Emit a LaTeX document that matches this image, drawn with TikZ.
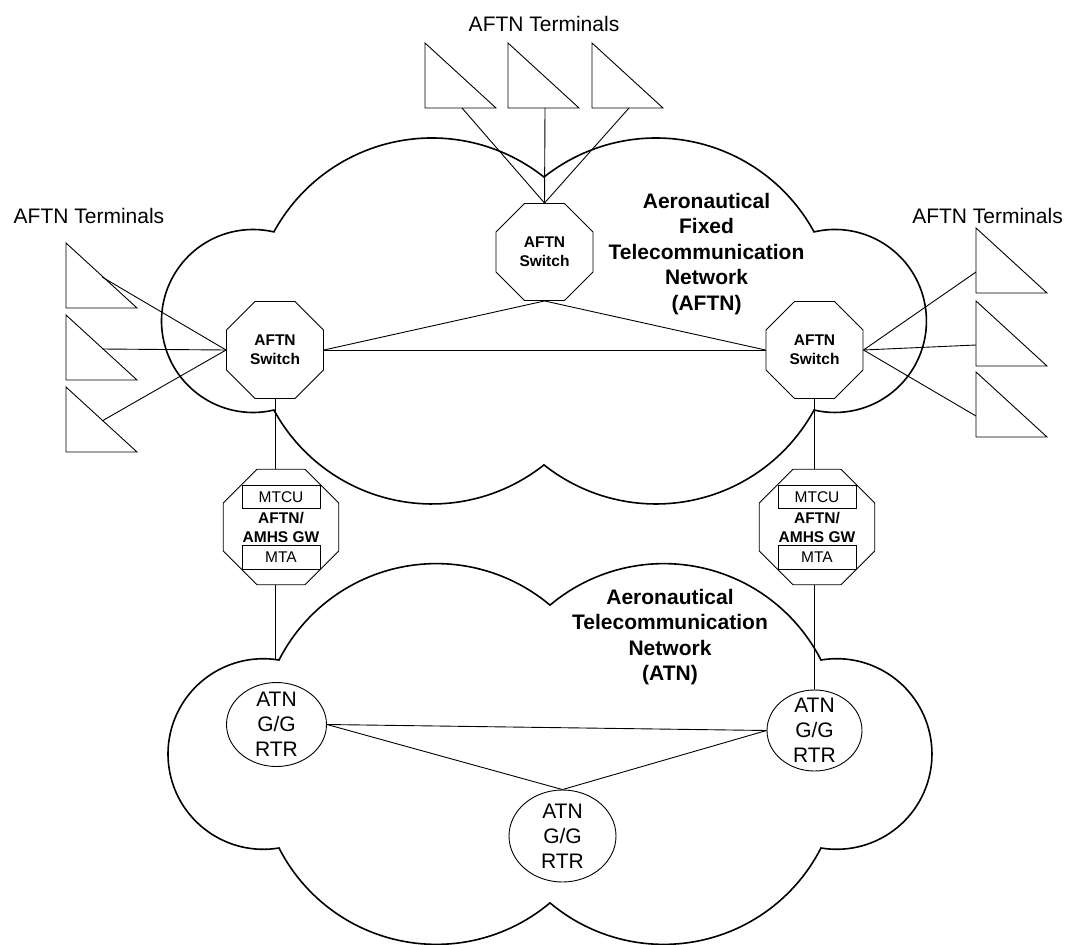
\documentclass[tikz,border=0pt]{standalone}
\usepackage{fontspec}
\setmainfont{Liberation Sans}
\usetikzlibrary{shapes.geometric, positioning, calc}

\begin{document}
\begin{tikzpicture}[
    x=1pt, y=-1pt,
    cloudline/.style={draw, line width=1.6pt},
    link/.style={draw, line width=0.9pt},
    switch/.style={draw, line width=0.9pt, fill=white, regular polygon, regular polygon sides=8, minimum size=105pt, inner sep=0pt, align=center, font=\fontsize{15.5}{19}\selectfont\bfseries},
    gateway/.style={switch, minimum size=125pt},
    subbox/.style={draw, line width=0.9pt, fill=white, minimum width=78pt, minimum height=23.5pt, inner sep=0pt, font=\fontsize{15.5}{19}\selectfont},
    router/.style={draw, line width=0.9pt, fill=white, ellipse, inner xsep=0pt, inner ysep=-4pt, align=center, font=\fontsize{21}{25}\selectfont},
    netname/.style={align=center, font=\fontsize{21}{25.5}\selectfont\bfseries},
    tlabel/.style={anchor=base, font=\fontsize{21}{25}\selectfont},
    terminal/.pic={
        \draw[line width=0.9pt] (0,0) -- (0,65) -- (71,65) -- cycle;
        \coordinate (-bot) at (37,65);
        \coordinate (-hyp) at (36,34);
        \coordinate (-side) at (0,44);
    }
]
    \useasboundingbox (0,0) rectangle (1067,944);

    \draw[cloudline] (273.9,231.9)
        arc[start angle=-151.43, end angle=-51.52, radius=180]
        arc[start angle=-128.48, end angle=-28.57, radius=180]
        arc[start angle=-103.2, end angle=103.2, radius=91.5]
        arc[start angle=28.57, end angle=128.48, radius=180]
        arc[start angle=51.52, end angle=151.43, radius=180]
        arc[start angle=76.8, end angle=283.2, radius=91.5] -- cycle;
    \draw[cloudline] (279,660)
        arc[start angle=-153.01, end angle=-49.89, radius=176.5]
        arc[start angle=-130.11, end angle=-26.99, radius=176.5]
        arc[start angle=-99.48, end angle=99.48, radius=95.3]
        arc[start angle=26.99, end angle=130.11, radius=176.5]
        arc[start angle=49.89, end angle=153.01, radius=176.5]
        arc[start angle=80.52, end angle=279.48, radius=95.3] -- cycle;
    \coordinate (lcusp) at (279,660);

    \node[tlabel] (ttop) at (544,32) {AFTN Terminals};
    \node[tlabel] (tleft) at (89,223) {AFTN Terminals};
    \node[tlabel] (tright) at (987.5,223) {AFTN Terminals};

    \foreach \x/\n in {425/1, 508/2, 592/3} \pic (tt\n) at (\x,43) {terminal};
    \foreach \y/\n in {243/1, 315/2, 387/3} \pic (lt\n) at (66,\y) {terminal};
    \foreach \y/\n in {228/1, 301/2, 372/3} \pic (rt\n) at (976,\y) {terminal};

    \node[switch] (tsw) at (544.5,252) {AFTN\\Switch};
    \node[switch] (lsw) at (275,350) {AFTN\\Switch};
    \node[switch] (rsw) at (814.5,350) {AFTN\\Switch};

    \node[netname] (aftn) at (706.5,254) {Aeronautical\\Fixed\\Telecommunication\\Network\\(AFTN)};
    \node[netname] (atn) at (670,637) {Aeronautical\\Telecommunication\\Network\\(ATN)};

    \node[gateway] (lgw) at (281,527) {AFTN/\\AMHS GW};
    \node[subbox, above=18pt of lgw.center] (lmtcu) {MTCU};
    \node[subbox, below=18pt of lgw.center] (lmta) {MTA};
    \node[gateway] (rgw) at (817,527) {AFTN/\\AMHS GW};
    \node[subbox, above=18pt of rgw.center] (rmtcu) {MTCU};
    \node[subbox, below=18pt of rgw.center] (rmta) {MTA};

    \node[router, minimum width=100pt, minimum height=84pt] (lrtr) at (276.5,724.5) {ATN\\G/G\\RTR};
    \node[router, minimum width=95pt, minimum height=81pt] (rrtr) at (814.5,730.5) {ATN\\G/G\\RTR};
    \node[router, minimum width=107pt, minimum height=92pt] (brtr) at (562.5,836) {ATN\\G/G\\RTR};

    \foreach \n in {1,2,3} {
        \draw[link] (tt\n-bot) -- (tsw.north);
        \draw[link] (lt\n-hyp) -- (lsw.west);
        \draw[link] (rt\n-side) -- (rsw.east);
    }
    \draw[link] (tsw.south) -- (lsw.east);
    \draw[link] (tsw.south) -- (rsw.west);
    \draw[link] (lsw.east) -- (rsw.west);

    \draw[link] (lsw.south) -- (lsw.south |- lgw.north);
    \draw[link] (lsw.south |- lgw.south) -- (lsw.south |- lcusp);
    \draw[link] (rsw.south) -- (rsw.south |- rgw.north);
    \draw[link] (rsw.south |- rgw.south) -- (rrtr.north);

    \draw[link] (lrtr.east) -- (rrtr.west);
    \draw[link] (lrtr.east) -- (brtr.north);
    \draw[link] (rrtr.west) -- (brtr.north);
\end{tikzpicture}
\end{document}
